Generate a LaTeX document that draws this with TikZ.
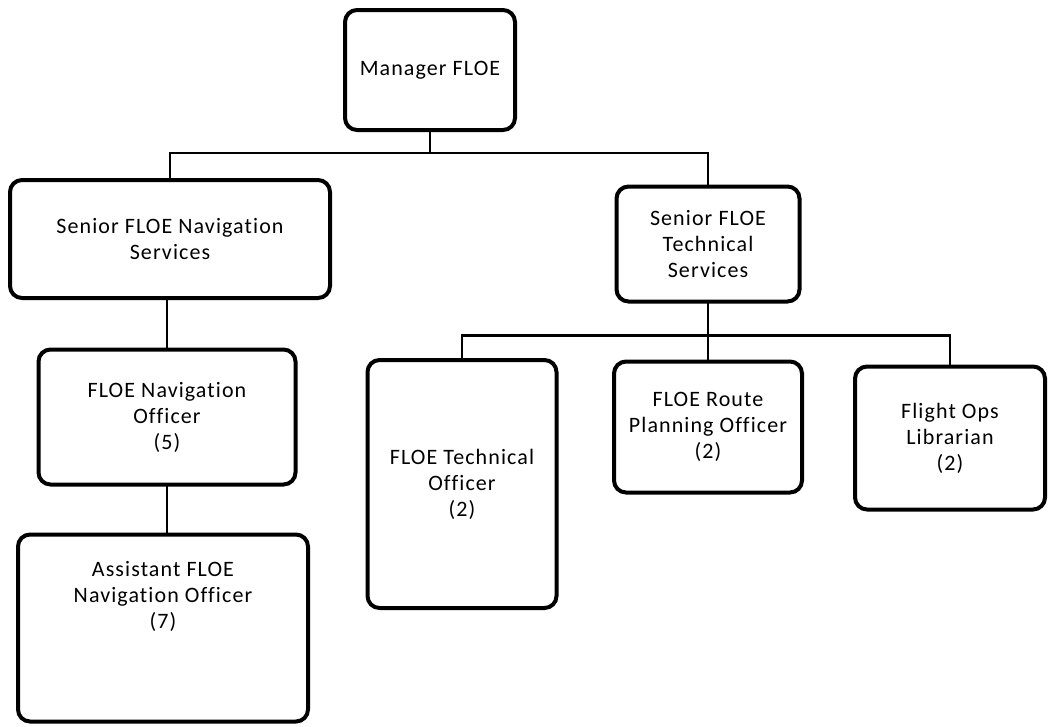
\documentclass[tikz,border=0pt]{standalone}
\usepackage{fontspec}
\setmainfont[LetterSpace=5,Ligatures=NoCommon]{Carlito}
\usetikzlibrary{positioning,calc}

\begin{document}
\begin{tikzpicture}[x=1pt,y=-1pt,
		post/.style={draw, rectangle, rounded corners=12pt, line width=4pt, align=center,
			font=\fontsize{22}{26}\selectfont, inner sep=2pt, outer sep=0pt},
		link/.style={line width=2.5pt}]
	\useasboundingbox (0,0) rectangle (1054,726);
	% top of the chart
	\node[post, minimum width=170, minimum height=120] (mgr) at (430,70) {Manager FLOE};
	\node[post, minimum width=320, minimum height=118] (snav) at (170,239) {Senior FLOE Navigation\\Services};
	\node[post, minimum width=183, minimum height=115] (stech) at (708,244) {Senior FLOE\\Technical\\Services};
	% navigation side
	\node[post, minimum width=257, minimum height=135] (navoff) at (167,417) {FLOE Navigation\\Officer\\(5)};
	\node[post, minimum width=290, minimum height=187] (asst) at (163,628) {Assistant FLOE\\Navigation Officer\\(7)\\[40pt]};
	% technical side
	\node[post, minimum width=189, minimum height=248] (techoff) at (462,484) {FLOE Technical\\Officer\\(2)};
	\node[post, minimum width=188, minimum height=131] (route) at (708,427) {FLOE Route\\Planning Officer\\(2)};
	\node[post, minimum width=190, minimum height=143] (lib) at (950,438) {Flight Ops\\Librarian\\(2)};
	% connectors
	\coordinate (bus1) at ($(mgr.south)+(0,23)$);
	\coordinate (bus2) at ($(stech.south)+(0,34)$);
	\draw[link] (mgr.south) -- (bus1) -| (snav.north);
	\draw[link] (bus1) -| (stech.north);
	\draw[link] (snav.south -| navoff.north) -- (navoff.north);
	\draw[link] (navoff.south) -- (navoff.south |- asst.north);
	\draw[link] (stech.south) -- (bus2) -| (techoff.north);
	\draw[link] (bus2) -| (lib.north);
	\draw[link] (bus2) -- (route.north);
\end{tikzpicture}
\end{document}
